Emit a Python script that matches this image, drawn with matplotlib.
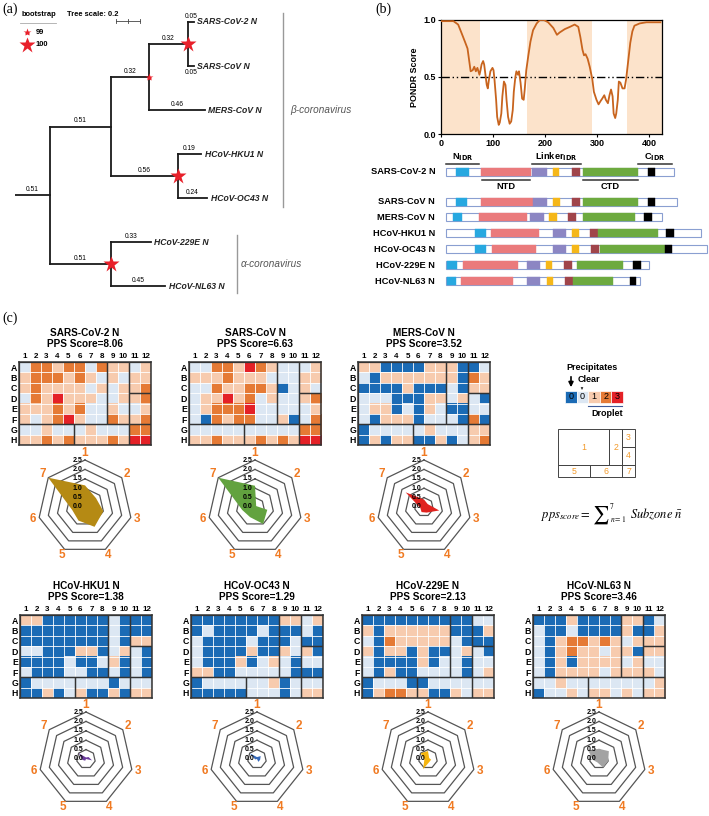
import numpy as np
import matplotlib
matplotlib.use("Agg")
import matplotlib.pyplot as plt
from matplotlib.colors import ListedColormap, BoundaryNorm
from matplotlib.patches import Rectangle

plt.rcParams['font.family'] = ['Liberation Sans', 'DejaVu Sans']

# ======================= DATA =======================
# (a) phylogenetic tree: (name, branch length, children)
tree = ("root", 0.51, [
    ("beta", 0.51, [
        ("sarsclade", 0.32, [
            ("sars", 0.32, [("SARS-CoV-2 N", 0.05, None), ("SARS-CoV N", 0.05, None)]),
            ("MERS-CoV N", 0.46, None)]),
        ("hku", 0.56, [("HCoV-HKU1 N", 0.19, None), ("HCoV-OC43 N", 0.24, None)])]),
    ("alpha", 0.51, [("HCoV-229E N", 0.33, None), ("HCoV-NL63 N", 0.45, None)])])
bootstrap = {"sars": 100, "sarsclade": 99, "hku": 100, "alpha": 100}
tree_scale = 0.2

# (b) PONDR disorder prediction (SARS-CoV-2 N)
pondr_pos = [1, 24, 33, 40, 46, 51, 54, 57, 61, 64, 67, 70, 74, 76, 78, 81, 83, 86, 88, 90,
             92, 95, 99, 101, 103, 106, 108, 111, 113, 116, 118, 121, 124, 126, 129, 132, 135,
             138, 140, 143, 145, 148, 150, 153, 156, 159, 161, 164, 168, 172, 177, 184, 190,
             198, 206, 216, 223, 228, 238, 248, 257, 264, 268, 272, 275, 278, 282, 286, 291,
             294, 299, 303, 307, 310, 314, 317, 321, 324, 327, 330, 332, 335, 337, 340, 342,
             345, 349, 353, 356, 360, 364, 368, 372, 382, 395, 408, 422]
pondr_score = [0.99, 0.99, 0.96, 0.88, 0.81, 0.75, 0.65, 0.55, 0.56, 0.59, 0.55, 0.58, 0.52,
               0.56, 0.61, 0.64, 0.61, 0.50, 0.43, 0.40, 0.47, 0.55, 0.58, 0.56, 0.47, 0.30,
               0.15, 0.08, 0.10, 0.18, 0.33, 0.46, 0.43, 0.30, 0.15, 0.09, 0.11, 0.21, 0.37,
               0.50, 0.55, 0.52, 0.55, 0.45, 0.31, 0.30, 0.39, 0.56, 0.69, 0.81, 0.91, 0.97,
               1.00, 1.00, 0.98, 0.93, 0.87, 0.89, 0.92, 0.94, 0.96, 0.94, 0.85, 0.74, 0.69,
               0.70, 0.66, 0.59, 0.48, 0.37, 0.30, 0.26, 0.29, 0.31, 0.34, 0.30, 0.27, 0.34,
               0.39, 0.33, 0.18, 0.14, 0.18, 0.30, 0.46, 0.45, 0.40, 0.40, 0.48, 0.64, 0.80,
               0.90, 0.95, 0.97, 0.98, 0.98, 0.98]
idr_regions = [(0, 75), (165, 290), (357, 425)]

# domain architecture (residue-like units)
protein_names = ["SARS-CoV-2 N", "SARS-CoV N", "MERS-CoV N", "HCoV-HKU1 N",
                 "HCoV-OC43 N", "HCoV-229E N", "HCoV-NL63 N"]
protein_len = [420, 427, 398, 470, 481, 374, 358]
dom_blue = [(18, 43), (18, 38), (12, 30), (54, 74), (54, 74), (2, 20), (2, 18)]
dom_pink = [(64, 156), (65, 161), (60, 150), (83, 172), (85, 167), (32, 133), (27, 124)]
dom_purple = [(159, 186), (161, 187), (155, 180), (198, 221), (198, 222), (150, 173), (150, 173)]
dom_yellow = [(197, 209), (197, 210), (191, 204), (233, 246), (233, 246), (184, 195), (186, 197)]
dom_darkred = [(232, 247), (232, 247), (225, 240), (266, 280), (267, 282), (218, 232), (220, 234)]
dom_green = [(253, 355), (253, 355), (252, 349), (280, 391), (284, 404), (241, 326), (234, 308)]
dom_black = [(372, 386), (372, 386), (366, 381), (407, 421), (404, 418), (345, 360), (340, 351)]
idr_marks = [("N", "IDR", 0, 61), ("Linker", "IDR", 158, 250), ("C", "IDR", 354, 418)]
fold_marks = [("NTD", 66, 155), ("CTD", 253, 355)]

# (c) phase-separation plates: P = precipitate, 0 = clear, 1-3 = droplet level
plate_rows = list("ABCDEFGH")
plate_cols = [str(i) for i in range(1, 13)]
plate_sars2 = ["022122021101", "122212101011", "121111010112", "021311100112",
               "111212001001", "101231002112", "001000100022", "112121112133"]
plate_sars = ["002213210001", "111211100011", "00211221P010", "011312010012",
              "012223000001", "0P2122001P02", "000000000022", "112111212133"]
plate_mers = ["11PPPP111PP0", "0P1111111P21", "PPPP1PPP0P11", "000PPP11010P",
              "011P0P10PP00", "0P111P000P2P", "P00000100011", "P1P11PP1P012"]
plate_hku1 = ["11PPPPPP0PPP", "PPPPPPPP0PPP", "PPPPPPPP0P11", "00PPP11P010P",
              "PPPP0PP01P0P", "0PPP00PP0P0P", "P0000000P000", "PP1P01PP1P11"]
plate_oc43 = ["PPPPPPPP1101", "P0PPPP0PPP0P", "0PPPP0PPP0PP", "0PPPP1PP101P",
              "0PPP1P010P00", "11PP00000PPP", "P0000001P000", "PPPPP000P011"]
plate_229e = ["PPPPPPPPPP00", "1P111111PPP1", "0P2111110PPP", "1P11P1PP010P",
              "0PPPP1P00P00", "0P1PP0000P01", "P000PP000000", "P12211PP1011"]
plate_nl63 = ["PPP1PPPP11P0", "0PP0PPPP1PP1", "0P1221210111", "0P1211011P11",
              "0P1P11110100", "0P1111011110", "001000000001", "P00101101011"]
pps_scores = [8.06, 6.63, 3.52, 1.38, 1.29, 2.13, 3.46]
# subzone means (zones 1..7)
radar_sars2 = [1.15, 0.75, 1.00, 1.17, 0.80, 0.70, 2.50]
radar_sars = [1.13, 0.08, 0.67, 1.00, 0.60, 0.70, 2.50]
radar_mers = [0.40, 0.25, 0.83, 0.33, 0.30, 0.20, 1.25]
radar_hku1 = [0.08, 0.17, 0.33, 0.00, 0.10, 0.20, 0.50]
radar_oc43 = [0.10, 0.25, 0.17, 0.17, 0.00, 0.10, 0.50]
radar_229e = [0.42, 0.08, 0.17, 0.17, 0.60, 0.20, 0.50]
radar_nl63 = [0.54, 0.67, 0.50, 0.50, 0.20, 0.30, 0.75]
radar_ticks = [0.0, 0.5, 1.0, 1.5, 2.0, 2.5]
zone_rects = [(0, 0, 8, 6), (8, 0, 2, 6), (10, 0, 2, 3), (10, 3, 2, 3),
              (0, 6, 5, 2), (5, 6, 5, 2), (10, 6, 2, 2)]
legend_codes = ["0", "0", "1", "2", "3"]

# ======================= STYLE / LAYOUT =======================
W, H = 709, 816
fig = plt.figure(figsize=(W / 100, H / 100), dpi=100)
renderer = fig.canvas.get_renderer()


def px_axes(l, t, w, h, **kw):
    return fig.add_axes([l / W, 1 - (t + h) / H, w / W, h / H], **kw)


deco = px_axes(0, 0, W, H)
deco.set_xlim(0, W)
deco.set_ylim(H, 0)
deco.axis('off')

serif = ['Liberation Serif', 'DejaVu Serif']
for lab, x, y in [("(a)", 2, 9), ("(b)", 375, 9), ("(c)", 2, 318)]:
    deco.text(x, y, lab, family=serif, fontsize=10, va='center', ha='left')

# ---------------- (a) tree ----------------
tree_c = '#1a1a1a'
ax_t = px_axes(15, 5, 345, 300)
root_stub = 0.29
ax_t.set_xlim(-root_stub, -root_stub + 345 / 120)
ax_t.set_ylim(6.43, -0.386)
ax_t.axis('off')
label_below = {"SARS-CoV N"}
leaf_i = [0]


def draw_node(node, x0):
    name, bl, kids = node
    x1 = x0 + bl
    if kids is None:
        y = leaf_i[0]
        leaf_i[0] += 1
        ax_t.text(x1 + 0.03, y, name, style='italic', weight='bold', fontsize=6.2,
                  va='center', ha='left', color='#222')
    else:
        ys = [draw_node(k, x1) for k in kids]
        ax_t.plot([x1, x1], [min(ys), max(ys)], color=tree_c, lw=1.3,
                  solid_capstyle='projecting')
        y = (min(ys) + max(ys)) / 2
    ax_t.plot([x0, x1], [y, y], color=tree_c, lw=1.3, solid_capstyle='projecting')
    if name in label_below:
        ax_t.text((x0 + x1) / 2, y + 0.07, f"{bl:.2f}", fontsize=4.8, ha='center', va='top')
    else:
        ax_t.text((x0 + x1) / 2, y - 0.05, f"{bl:.2f}", fontsize=4.8, ha='center', va='bottom')
    if name in bootstrap:
        ms = 12 if bootstrap[name] >= 100 else 6
        ax_t.plot(x1, y, marker='*', ms=ms, color='#E8202A', mec='none', zorder=5)
    return y


rname, rbl, rkids = tree
rys = [draw_node(k, 0.0) for k in rkids]
ax_t.plot([0, 0], [min(rys), max(rys)], color=tree_c, lw=1.3, solid_capstyle='projecting')
ry = (min(rys) + max(rys)) / 2
ax_t.plot([-root_stub, 0], [ry, ry], color=tree_c, lw=1.3)
ax_t.text(-root_stub / 2, ry - 0.05, f"{rbl:.2f}", fontsize=4.8, ha='center', va='bottom')

# clade brackets
ax_t.plot([1.94, 1.94], [-0.2, 4.2], color='#999', lw=1.0)
ax_t.text(2.0, 2.0, "β-coronavirus", style='italic', fontsize=7.2, color='#555', va='center')
ax_t.plot([1.56, 1.56], [4.85, 6.15], color='#999', lw=1.0)
ax_t.text(1.59, 5.5, "α-coronavirus", style='italic', fontsize=7.2, color='#555', va='center')

# tree legend
deco.text(22, 15, "bootstrap", weight='bold', fontsize=5.4, va='center')
deco.plot([20, 56], [22.5, 22.5], color='#aaa', lw=0.6)
deco.plot(27, 32, marker='*', ms=6, color='#E8202A', mec='none')
deco.text(36, 32, "99", weight='bold', fontsize=5.4, va='center')
deco.plot(27, 45, marker='*', ms=12, color='#E8202A', mec='none')
deco.text(36, 45, "100", weight='bold', fontsize=5.4, va='center')
deco.text(67, 15, "Tree scale: 0.2", weight='bold', fontsize=5.4, va='center')
ax_t.plot([0.55, 0.55 + tree_scale], [-0.02, -0.02], color='#444', lw=0.6)
for xx in [0.55, 0.55 + tree_scale / 2, 0.55 + tree_scale]:
    ax_t.plot([xx, xx], [-0.06, 0.02], color='#444', lw=0.6)

# ---------------- (b) PONDR ----------------
ax_p = px_axes(441, 20, 221, 114)
for s, e in idr_regions:
    ax_p.axvspan(s, e, color='#FCE3CB', lw=0, zorder=0)
ax_p.plot(pondr_pos, pondr_score, color='#C8641E', lw=1.3, zorder=3)
ax_p.axhline(0.5, color='black', lw=1.0, ls=(0, (6, 2, 1, 2, 1, 2)), zorder=2)
ax_p.set_xlim(0, 425)
ax_p.set_ylim(0, 1.0)
ax_p.set_xticks([0, 100, 200, 300, 400])
ax_p.set_yticks([0.0, 0.5, 1.0])
ax_p.set_yticklabels(["0.0", "0.5", "1.0"])
ax_p.tick_params(labelsize=6.5, length=2.5, width=0.8, pad=1.0)
for t in ax_p.get_xticklabels() + ax_p.get_yticklabels():
    t.set_fontweight('bold')
ax_p.set_ylabel("PONDR Score", fontsize=6.4, weight='bold', labelpad=3)
for sp in ax_p.spines.values():
    sp.set_linewidth(0.9)

# domain diagrams
ax_d = px_axes(360, 150, 349, 150)
ax_d.set_xlim(-158.8, 485.5)
ax_d.set_ylim(300, 150)
ax_d.axis('off')
row_y = [172, 202, 217, 233, 249, 265, 281]
dom_sets = [(dom_blue, '#27A8E0'), (dom_pink, '#EA7A7C'), (dom_purple, '#8C86C3'),
            (dom_yellow, '#F5B719'), (dom_darkred, '#A0444A'), (dom_green, '#6DAA3F'),
            (dom_black, '#000000')]
bh = 8
for i, name in enumerate(protein_names):
    y = row_y[i]
    ax_d.add_patch(Rectangle((0, y - bh / 2), protein_len[i], bh, fc='white',
                             ec='#8A9FD1', lw=0.8, zorder=1))
    for segs, col in dom_sets:
        s, e = segs[i]
        ax_d.add_patch(Rectangle((s, y - bh / 2), e - s, bh, fc=col, ec=col, lw=0.3, zorder=2))
    ax_d.text(-20, y, name, ha='right', va='center', fontsize=6.7, weight='bold')
for main, sub, s, e in idr_marks:
    ax_d.plot([s, e], [163.5, 163.5], color='#333', lw=1.1)
    ax_d.text((s + e) / 2, 159.5, f"{main}$_{{\\mathbf{{{sub}}}}}$", ha='center',
              va='baseline', fontsize=6.7, weight='bold')
for lab, s, e in fold_marks:
    ax_d.plot([s, e], [179.5, 179.5], color='#333', lw=1.1)
    ax_d.text((s + e) / 2, 182, lab, ha='center', va='top', fontsize=6.7, weight='bold')

# ---------------- (c) plates ----------------
cmap = ListedColormap(['#1B6BB5', '#DCE7F3', '#F7CBAE', '#E57A35', '#E42127'])
norm = BoundaryNorm([-1.5, -0.5, 0.5, 1.5, 2.5, 3.5], cmap.N)
code = {'P': -1, '0': 0, '1': 1, '2': 2, '3': 3}

plates = [plate_sars2, plate_sars, plate_mers, plate_hku1, plate_oc43, plate_229e, plate_nl63]
radars = [radar_sars2, radar_sars, radar_mers, radar_hku1, radar_oc43, radar_229e, radar_nl63]
radar_colors = ['#B58A14', '#62A23F', '#E0221E', '#6A3A9C', '#3569BA', '#F5B50F', '#A3A3A3']
heat_pos = [(19, 362), (189, 362), (358, 362), (20, 615), (191, 615), (362, 615), (533, 615)]
radar_cy = [507, 507, 507, 759, 759, 759, 759]
hw, hh = 132, 83
orange = '#F07A22'

for k in range(7):
    hx, hy = heat_pos[k]
    ax = px_axes(hx, hy, hw, hh)
    mat = np.array([[code[c] for c in row] for row in plates[k]])
    ax.imshow(mat, cmap=cmap, norm=norm, extent=(0, 12, 8, 0), aspect='auto',
              interpolation='nearest')
    for i in range(1, 12):
        ax.axvline(i, color='white', lw=0.6)
    for j in range(1, 8):
        ax.axhline(j, color='white', lw=0.6)
    for (c0, r0, cw, rh) in zone_rects:
        ax.add_patch(Rectangle((c0, r0), cw, rh, fill=False, ec='#333', lw=0.9, zorder=4))
    ax.set_xlim(0, 12)
    ax.set_ylim(8, 0)
    ax.xaxis.tick_top()
    ax.set_xticks(np.arange(12) + 0.5)
    ax.set_xticklabels(plate_cols, fontsize=5.8, weight='bold')
    ax.set_yticks(np.arange(8) + 0.5)
    ax.set_yticklabels(plate_rows, fontsize=6.3, weight='bold')
    ax.tick_params(length=0, pad=1.5)
    for sp in ax.spines.values():
        sp.set_linewidth(1.1)
        sp.set_color('#333')
    cx = hx + hw / 2
    deco.text(cx, hy - 29, protein_names[k], ha='center', va='center', fontsize=7.2, weight='bold')
    deco.text(cx, hy - 18, f"PPS Score={pps_scores[k]:.2f}", ha='center', va='center',
              fontsize=7.2, weight='bold')

    # radar
    R = 47
    cy = radar_cy[k]
    axr = px_axes(cx - R, cy - R, 2 * R, 2 * R, projection='polar')
    axr.set_theta_zero_location('N')
    axr.set_theta_direction(-1)
    axr.set_ylim(0, 2.5)
    axr.axis('off')
    th = np.arange(7) * 2 * np.pi / 7
    thc = np.append(th, th[0])
    for r in radar_ticks[1:]:
        axr.plot(thc, [r] * 8, color='#555', lw=0.9, clip_on=False)
    vals = np.array(radars[k])
    axr.fill(thc, np.append(vals, vals[0]), color=radar_colors[k], lw=0, zorder=3)
    for r in radar_ticks:
        axr.annotate(f"{r:.1f}", xy=(0, r), xytext=(-2, 0), textcoords='offset points',
                     ha='right', va='center', fontsize=5, weight='bold', zorder=5)
    for i in range(7):
        axr.text(th[i], 2.85, str(i + 1), ha='center', va='center', fontsize=8.5,
                 weight='bold', color=orange, clip_on=False)

# legend for plate scoring
deco.text(592, 368, "Precipitates", ha='center', va='center', fontsize=6.5, weight='bold')
deco.annotate("", xy=(571, 390), xytext=(571, 374),
              arrowprops=dict(arrowstyle='-|>', lw=1.2, color='black', mutation_scale=7))
deco.text(589, 380, "Clear", ha='center', va='center', fontsize=6.5, weight='bold')
deco.annotate("", xy=(582, 390), xytext=(582, 385),
              arrowprops=dict(arrowstyle='-|>', lw=0.6, color='#444', mutation_scale=3))
box_cols = ['#1B6BB5', '#DCE7F3', '#F7CBAE', '#E57A35', '#E42127']
for i, (lab, col) in enumerate(zip(legend_codes, box_cols)):
    x0 = 565 + i * 11.6
    deco.add_patch(Rectangle((x0, 391), 11.6, 11.5, fc=col, ec='white', lw=0.5))
    deco.text(x0 + 5.8, 396.8, lab, ha='center', va='center', fontsize=6.5, color='black')
deco.plot([588, 622], [406, 406], color='#3D5A99', lw=0.8)
deco.text(607, 413, "Droplet", ha='center', va='center', fontsize=6.5, weight='bold')

# zone schematic
ax_z = px_axes(558, 429, 77, 48)
ax_z.set_xlim(0, 12)
ax_z.set_ylim(8, 0)
ax_z.axis('off')
for zi, (c0, r0, cw, rh) in enumerate(zone_rects):
    ax_z.add_patch(Rectangle((c0, r0), cw, rh, fill=False, ec='#444', lw=0.7, clip_on=False))
    ax_z.text(c0 + cw / 2, r0 + rh / 2, str(zi + 1), ha='center', va='center',
              fontsize=6.3, color='#F39A2A')

# formula, laid out piece by piece
fx, fy = 541, 518
t1 = deco.text(fx, fy, r'$pps_{score}=$', ha='left', va='baseline', fontsize=9,
               math_fontfamily='stix')
fx += t1.get_window_extent(renderer).width + 2
t2 = deco.text(fx, fy + 2, '\u2211', ha='left', va='baseline', fontsize=13,
               family=['STIXGeneral', 'DejaVu Serif'])
sw = t2.get_window_extent(renderer).width
t3 = deco.text(fx + sw + 0.5, fy - 9, '7', ha='left', va='baseline', fontsize=5.5,
               family=['STIXGeneral', 'DejaVu Serif'])
t4 = deco.text(fx + sw + 0.5, fy + 4, r'$n=1$', ha='left', va='baseline', fontsize=5.5,
               math_fontfamily='stix')
sub_w = max(t3.get_window_extent(renderer).width, t4.get_window_extent(renderer).width)
deco.text(fx + sw + sub_w + 5, fy, r'$Subzone\ \bar{n}$', ha='left', va='baseline',
          fontsize=9, math_fontfamily='stix')

fig.savefig("out.png", dpi=100)
